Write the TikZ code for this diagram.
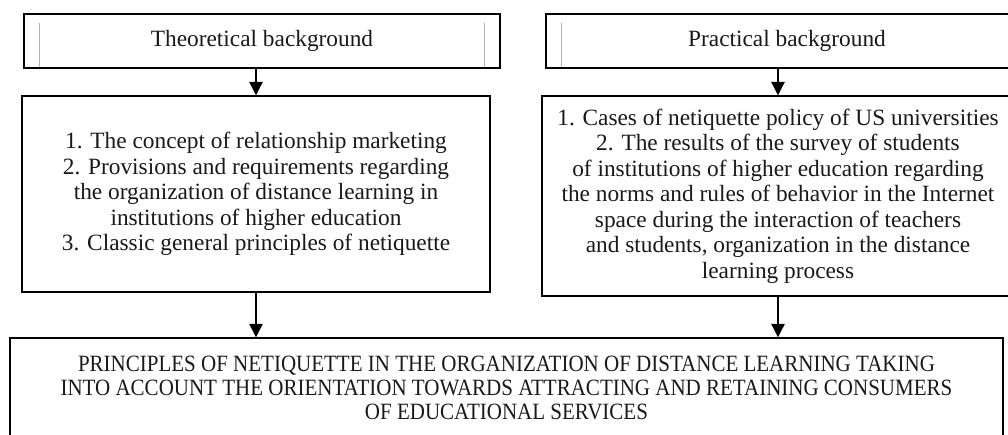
\documentclass[tikz,border=0pt]{standalone}
\usepackage{fontspec}
\setmainfont{Liberation Serif}
\newfontfamily\capsfont[FakeStretch=0.9]{Liberation Serif}
\usetikzlibrary{arrows.meta}
\begin{document}
\begin{tikzpicture}[x=0.75pt,y=-0.75pt,
        box/.style={draw,line width=1.1pt,inner sep=0pt,align=center,text=black!90,
            font=\fontsize{17.5pt}{19.1pt}\selectfont},
        arr/.style={line width=0.9pt,-{Triangle[width=10pt,length=10pt]}},
        frameline/.style={black!30,line width=0.5pt}]
    \useasboundingbox (0,0) rectangle (1008,435);
    \node[box,minimum width=357pt,minimum height=40.5pt] (theo) at (262,41) {Theoretical background};
    \node[box,minimum width=361.5pt,minimum height=40.5pt] (prac) at (787,41) {Practical background};
    \draw[frameline] ([xshift=12pt,yshift=-7pt]theo.north west) -- ([xshift=12pt,yshift=-40pt]theo.north west);
    \draw[frameline] ([xshift=-12pt,yshift=-7pt]theo.north east) -- ([xshift=-12pt,yshift=-40pt]theo.north east);
    \draw[frameline] ([xshift=12pt,yshift=-7pt]prac.north west) -- ([xshift=12pt,yshift=-40pt]prac.north west);
    \node[box,minimum width=351pt,minimum height=147pt] (theolist) at (256,194) {1. The concept of relationship marketing\\
        2. Provisions and requirements regarding\\
        the organization of distance learning in\\
        institutions of higher education\\
        3. Classic general principles of netiquette};
    \node[box,minimum width=354pt,minimum height=150pt] (praclist) at (778,196) {1. Cases of netiquette policy of US universities\\
        2. The results of the survey of students\\
        of institutions of higher education regarding\\
        the norms and rules of behavior in the Internet\\
        space during the interaction of teachers\\
        and students, organization in the distance\\
        learning process};
    \node[box,minimum width=744.75pt,minimum height=75pt,font=\capsfont\fontsize{17.5pt}{18pt}\selectfont] (goal) at (506.5,388) {PRINCIPLES OF NETIQUETTE IN THE ORGANIZATION OF DISTANCE LEARNING TAKING\\
        INTO ACCOUNT THE ORIENTATION TOWARDS ATTRACTING AND RETAINING CONSUMERS\\
        OF EDUCATIONAL SERVICES};
    \draw[arr] (theolist.north |- theo.south) -- (theolist.north);
    \draw[arr] (praclist.north |- prac.south) -- (praclist.north);
    \draw[arr] (theolist.south) -- (theolist.south |- goal.north);
    \draw[arr] (praclist.south) -- (praclist.south |- goal.north);
\end{tikzpicture}
\end{document}
